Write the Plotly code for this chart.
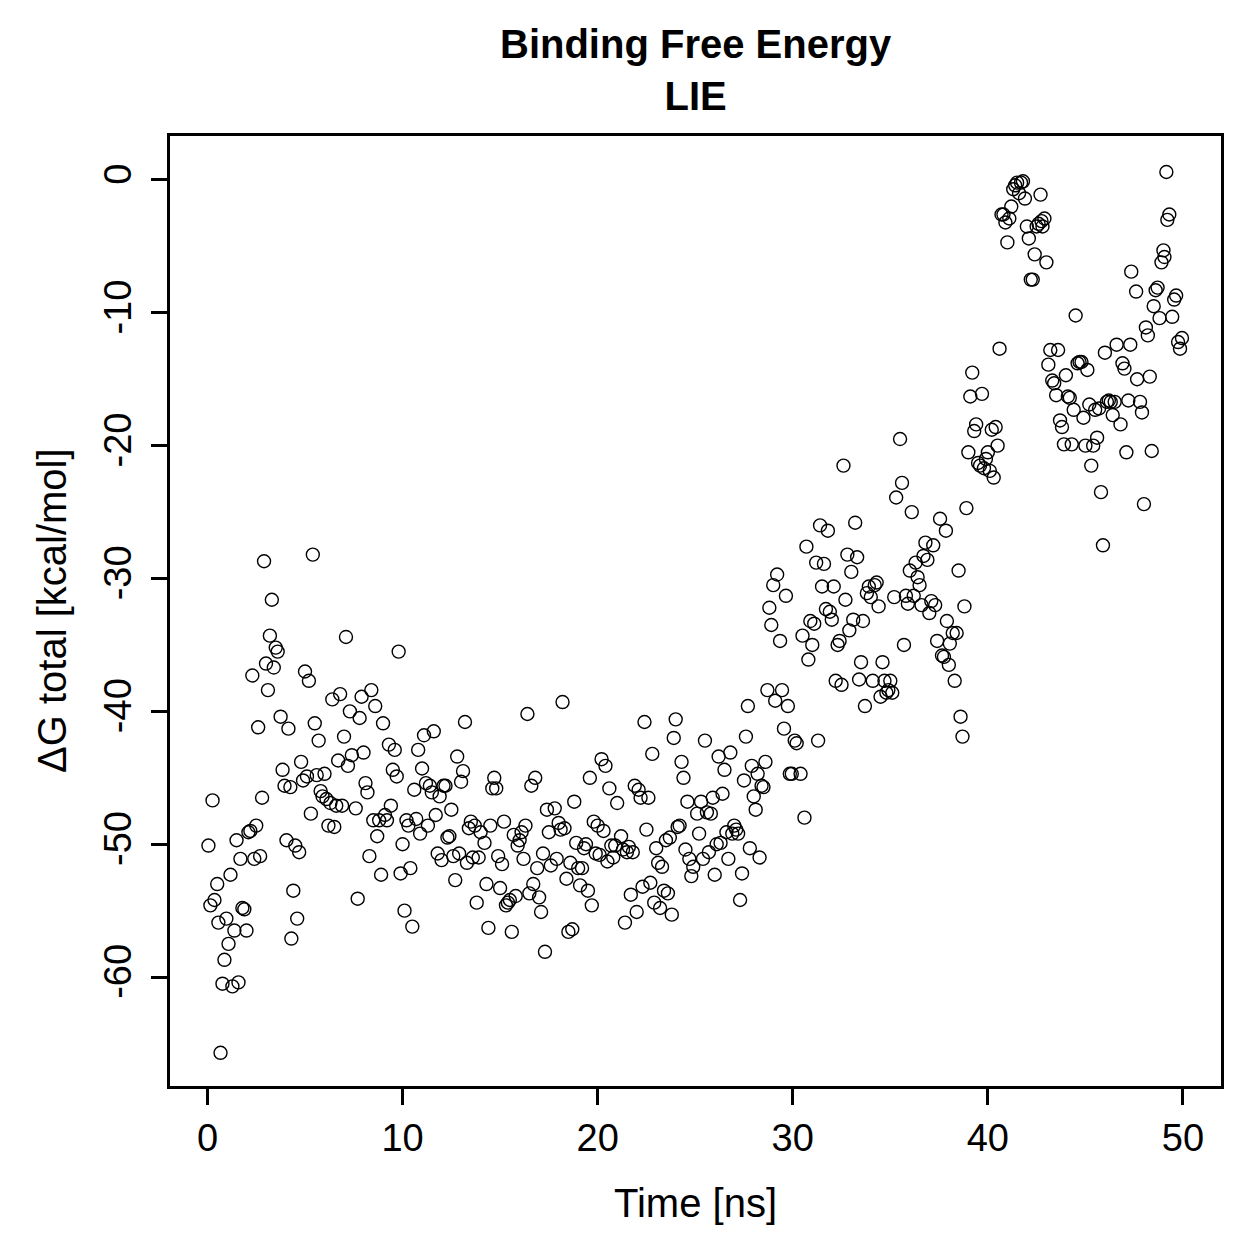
import plotly.graph_objects as go

time_ns = [
    0.05, 0.15, 0.26, 0.36, 0.5, 0.56, 0.67, 0.77, 0.87, 0.97,
    1.08, 1.18, 1.28, 1.38, 1.49, 1.59, 1.69, 1.79, 1.89, 2.0,
    2.1, 2.2, 2.3, 2.4, 2.5, 2.6, 2.7, 2.8, 2.9, 3.0,
    3.1, 3.2, 3.3, 3.4, 3.5, 3.6, 3.75, 3.85, 3.95, 4.05,
    4.15, 4.25, 4.3, 4.4, 4.5, 4.6, 4.7, 4.8, 4.9, 5.0,
    5.1, 5.2, 5.3, 5.4, 5.5, 5.6, 5.7, 5.8, 5.9, 6.0,
    6.1, 6.2, 6.3, 6.4, 6.5, 6.6, 6.7, 6.8, 6.9, 7.0,
    7.1, 7.2, 7.3, 7.4, 7.6, 7.7, 7.8, 7.9, 8.0, 8.1,
    8.2, 8.3, 8.4, 8.5, 8.6, 8.7, 8.8, 8.9, 9.0, 9.1,
    9.2, 9.3, 9.4, 9.5, 9.6, 9.7, 9.8, 9.9, 10.0, 10.1,
    10.2, 10.3, 10.4, 10.5, 10.6, 10.7, 10.8, 10.9, 11.0, 11.1,
    11.2, 11.3, 11.4, 11.5, 11.6, 11.7, 11.8, 11.9, 12.0, 12.1,
    12.2, 12.3, 12.4, 12.5, 12.6, 12.7, 12.8, 12.9, 13.0, 13.1,
    13.2, 13.3, 13.4, 13.5, 13.6, 13.7, 13.8, 13.9, 14.0, 14.2,
    14.3, 14.4, 14.5, 14.6, 14.7, 14.8, 14.9, 15.0, 15.1, 15.2,
    15.3, 15.4, 15.5, 15.6, 15.7, 15.8, 15.9, 16.0, 16.1, 16.2,
    16.3, 16.4, 16.5, 16.6, 16.7, 16.8, 16.9, 17.0, 17.1, 17.2,
    17.3, 17.4, 17.5, 17.6, 17.8, 17.9, 18.0, 18.1, 18.2, 18.3,
    18.4, 18.5, 18.6, 18.7, 18.8, 18.9, 19.0, 19.1, 19.2, 19.3,
    19.4, 19.5, 19.6, 19.7, 19.8, 19.9, 20.0, 20.1, 20.2, 20.3,
    20.4, 20.5, 20.6, 20.7, 20.8, 20.9, 21.0, 21.2, 21.3, 21.4,
    21.5, 21.6, 21.7, 21.8, 21.9, 22.0, 22.1, 22.2, 22.3, 22.4,
    22.5, 22.6, 22.7, 22.8, 22.9, 23.0, 23.1, 23.2, 23.3, 23.4,
    23.5, 23.6, 23.7, 23.8, 23.9, 24.0, 24.1, 24.2, 24.3, 24.4,
    24.5, 24.6, 24.7, 24.8, 24.9, 25.1, 25.2, 25.3, 25.4, 25.5,
    25.6, 25.7, 25.8, 25.9, 26.0, 26.1, 26.2, 26.3, 26.4, 26.5,
    26.6, 26.7, 26.8, 26.9, 27.0, 27.1, 27.2, 27.3, 27.4, 27.5,
    27.6, 27.7, 27.8, 27.9, 28.0, 28.1, 28.2, 28.3, 28.4, 28.5,
    28.6, 28.7, 28.8, 28.9, 29.0, 29.1, 29.2, 29.35, 29.45, 29.55,
    29.65, 29.75, 29.85, 29.95, 30.1, 30.2, 30.4, 30.5, 30.6, 30.7,
    30.8, 30.9, 31.0, 31.1, 31.2, 31.3, 31.4, 31.5, 31.6, 31.7,
    31.8, 31.9, 32.0, 32.1, 32.2, 32.3, 32.4, 32.5, 32.6, 32.7,
    32.8, 32.9, 33.0, 33.1, 33.2, 33.3, 33.4, 33.5, 33.6, 33.7,
    33.8, 33.9, 34.0, 34.1, 34.2, 34.3, 34.4, 34.5, 34.6, 34.7,
    34.8, 34.9, 35.0, 35.1, 35.2, 35.3, 35.5, 35.6, 35.7, 35.8,
    35.9, 36.0, 36.1, 36.2, 36.3, 36.4, 36.5, 36.6, 36.7, 36.8,
    36.9, 37.0, 37.1, 37.2, 37.3, 37.4, 37.55, 37.65, 37.75, 37.85,
    37.9, 38.0, 38.05, 38.2, 38.3, 38.4, 38.5, 38.6, 38.7, 38.8,
    38.9, 39.0, 39.1, 39.2, 39.3, 39.4, 39.5, 39.6, 39.7, 39.8,
    39.9, 40.0, 40.1, 40.2, 40.3, 40.4, 40.5, 40.6, 40.7, 40.8,
    40.9, 41.0, 41.1, 41.2, 41.3, 41.4, 41.5, 41.6, 41.7, 41.8,
    41.9, 42.0, 42.1, 42.2, 42.3, 42.4, 42.5, 42.6, 42.7, 42.75,
    42.8, 42.9, 43.0, 43.1, 43.2, 43.3, 43.4, 43.5, 43.6, 43.7,
    43.8, 43.9, 44.0, 44.1, 44.2, 44.3, 44.4, 44.5, 44.6, 44.7,
    44.8, 44.9, 45.0, 45.1, 45.2, 45.3, 45.4, 45.5, 45.6, 45.7,
    45.8, 45.9, 46.0, 46.1, 46.2, 46.3, 46.4, 46.5, 46.6, 46.8,
    46.9, 47.0, 47.1, 47.2, 47.3, 47.35, 47.6, 47.65, 47.8, 47.9,
    48.0, 48.1, 48.2, 48.3, 48.4, 48.5, 48.6, 48.7, 48.8, 48.9,
    49.0, 49.05, 49.15, 49.2, 49.3, 49.45, 49.55, 49.65, 49.75, 49.85,
    49.95,
]

delta_g = [
    -50.1, -54.6, -46.7, -54.2, -53.0, -55.9, -65.7, -60.5, -58.7, -55.6,
    -57.5, -52.3, -60.7, -56.5, -49.7, -60.4, -51.1, -54.8, -54.9, -56.5,
    -49.1, -49.0, -37.3, -51.1, -48.6, -41.2, -50.9, -46.5, -28.7, -36.4,
    -38.4, -34.3, -31.6, -36.7, -35.2, -35.5, -40.4, -44.4, -45.6, -49.7,
    -41.3, -45.7, -57.1, -53.5, -50.1, -55.6, -50.6, -43.8, -45.2, -37.0,
    -44.9, -37.7, -47.7, -28.2, -40.9, -44.8, -42.2, -46.0, -46.4, -44.7,
    -46.6, -48.6, -46.9, -39.1, -48.7, -47.1, -43.7, -38.7, -47.1, -41.9,
    -34.4, -44.1, -40.0, -43.3, -47.3, -54.1, -40.5, -38.9, -43.1, -45.4,
    -46.1, -50.9, -38.4, -48.2, -39.6, -49.4, -48.2, -52.3, -40.9, -47.8,
    -48.2, -42.5, -47.1, -44.4, -42.9, -44.9, -35.5, -52.2, -50.0, -55.0,
    -48.2, -48.6, -51.8, -56.2, -45.9, -48.1, -42.9, -49.2, -44.3, -41.8,
    -45.4, -48.6, -45.6, -46.1, -41.5, -47.8, -50.7, -46.4, -51.2, -45.6,
    -45.6, -49.5, -49.4, -47.4, -50.9, -52.7, -43.4, -50.7, -45.3, -44.5,
    -40.8, -51.4, -48.8, -48.3, -51.0, -48.6, -54.4, -51.0, -49.1, -49.9,
    -53.0, -56.3, -48.6, -45.8, -45.0, -45.8, -50.9, -53.3, -51.5, -48.3,
    -54.6, -54.4, -54.2, -56.6, -49.3, -53.9, -50.1, -49.7, -49.1, -51.1,
    -48.6, -40.2, -53.7, -45.6, -53.0, -45.0, -51.8, -54.0, -55.1, -50.7,
    -58.1, -47.4, -49.1, -51.6, -47.3, -51.1, -48.4, -48.9, -39.3, -48.8,
    -52.6, -56.6, -51.4, -56.4, -46.8, -49.9, -51.8, -53.1, -51.8, -50.3,
    -50.0, -53.5, -45.0, -54.6, -48.3, -50.7, -48.6, -50.8, -43.6, -49.0,
    -44.1, -51.3, -45.8, -50.1, -51.0, -50.1, -46.9, -49.4, -50.4, -55.9,
    -50.6, -50.2, -53.8, -50.6, -45.6, -55.1, -45.9, -46.5, -53.2, -40.8,
    -48.9, -46.5, -52.9, -43.2, -54.4, -50.3, -51.4, -54.8, -51.7, -53.5,
    -49.7, -53.7, -49.5, -55.3, -42.0, -40.6, -48.7, -48.6, -43.8, -45.0,
    -50.4, -46.8, -51.1, -52.4, -51.7, -47.7, -49.2, -46.8, -51.1, -42.2,
    -47.6, -50.6, -47.7, -46.5, -52.3, -50.0, -43.4, -49.9, -46.2, -44.4,
    -49.1, -51.1, -43.1, -49.2, -48.6, -48.9, -49.2, -54.2, -52.2, -45.2,
    -41.9, -39.6, -50.3, -44.1, -46.4, -47.4, -44.7, -51.0, -45.6, -45.7,
    -43.8, -38.4, -32.2, -33.5, -30.5, -39.2, -29.7, -34.7, -38.4, -41.3,
    -31.3, -39.6, -44.7, -44.7, -42.2, -42.4, -44.7, -34.3, -48.0, -27.6,
    -36.1, -33.2, -35.0, -33.4, -28.8, -42.2, -26.0, -30.6, -28.9, -32.3,
    -26.4, -32.5, -33.1, -30.6, -37.7, -35.0, -34.7, -38.0, -21.5, -31.6,
    -28.2, -33.9, -29.5, -33.1, -25.8, -28.4, -37.6, -36.3, -33.2, -39.6,
    -31.1, -30.6, -31.4, -37.7, -30.5, -30.3, -32.1, -38.9, -36.3, -37.7,
    -38.6, -38.4, -37.7, -38.6, -31.4, -23.9, -19.5, -22.8, -35.0, -31.3,
    -31.9, -29.4, -25.0, -31.3, -28.8, -29.9, -30.5, -32.0, -28.3, -27.3,
    -28.6, -32.6, -31.7, -27.5, -32.0, -34.7, -25.5, -35.8, -35.9, -26.4,
    -33.2, -36.5, -34.9, -34.1, -37.7, -34.1, -29.4, -40.4, -41.9, -32.1,
    -24.7, -20.5, -16.3, -14.5, -18.9, -18.4, -21.3, -21.5, -16.1, -21.7,
    -21.0, -20.5, -21.9, -18.8, -22.4, -18.6, -20.0, -12.7, -2.6, -2.6,
    -3.2, -4.7, -2.9, -2.0, -0.7, -0.4, -0.2, -1.0, -0.2, -0.1,
    -1.4, -3.5, -4.4, -7.5, -7.5, -5.6, -3.5, -3.3, -1.1, -3.1,
    -3.5, -2.9, -6.2, -13.9, -12.8, -15.1, -15.3, -16.2, -12.8, -18.1,
    -18.6, -19.9, -14.7, -16.3, -16.4, -19.9, -17.3, -10.2, -13.8, -13.7,
    -13.7, -17.9, -20.0, -14.3, -16.9, -21.5, -20.0, -17.3, -19.4, -17.2,
    -23.5, -27.5, -13.0, -16.7, -16.6, -16.7, -17.7, -16.7, -12.4, -18.4,
    -13.8, -14.2, -20.5, -16.6, -12.4, -6.9, -8.4, -15.0, -16.7, -17.5,
    -24.4, -11.1, -11.7, -14.8, -20.4, -9.5, -8.3, -8.1, -10.4, -6.2,
    -5.3, -5.8, 0.6, -3.0, -2.6, -10.3, -9.0, -8.7, -12.2, -12.7,
    -11.9,
]

x_ticks = [0, 10, 20, 30, 40, 50]
y_ticks = [0, -10, -20, -30, -40, -50, -60]

FONT = "Liberation Sans, Arial, Helvetica, sans-serif"

fig = go.Figure()
fig.add_trace(go.Scatter(
    x=time_ns, y=delta_g, mode="markers",
    marker=dict(symbol="circle-open", size=13, color="black",
                line=dict(width=1.4, color="black")),
    showlegend=False,
))

axis_common = dict(
    showline=True, mirror=True, linecolor="black", linewidth=3,
    ticks="outside", ticklen=16, tickwidth=3, tickcolor="black",
    showgrid=False, zeroline=False,
    tickfont=dict(family=FONT, size=38, color="black"),
)

fig.update_layout(
    width=1259, height=1259,
    margin=dict(l=170, r=38, t=136, b=173),
    paper_bgcolor="white", plot_bgcolor="white",
    font=dict(family=FONT, color="black"),
    title=dict(
        text="<b>Binding Free Energy</b><br><b>LIE</b>",
        x=0.5525, xanchor="center", xref="container",
        y=1 - 58 / 1259, yanchor="middle", yref="container",
        font=dict(family=FONT, size=40, color="black"),
    ),
    xaxis=dict(range=[-1.92, 51.95], tickvals=x_ticks,
               ticktext=[str(v) for v in x_ticks], **axis_common),
    yaxis=dict(range=[-68.2, 3.31], tickvals=y_ticks,
               ticktext=[str(v) for v in y_ticks], tickangle=-90,
               ticklabelstandoff=5, **axis_common),
    annotations=[
        dict(text="Time [ns]", xref="paper", yref="paper",
             x=0.5, y=(1086 - 1203) / 950, xanchor="center", yanchor="middle",
             showarrow=False, font=dict(family=FONT, size=40, color="black")),
        dict(text="ΔG total [kcal/mol]", xref="paper", yref="paper",
             x=(52 - 170) / 1051, y=0.5, xanchor="center", yanchor="middle",
             textangle=-90, showarrow=False,
             font=dict(family=FONT, size=40, color="black")),
    ],
)

fig.write_html("out.html")
